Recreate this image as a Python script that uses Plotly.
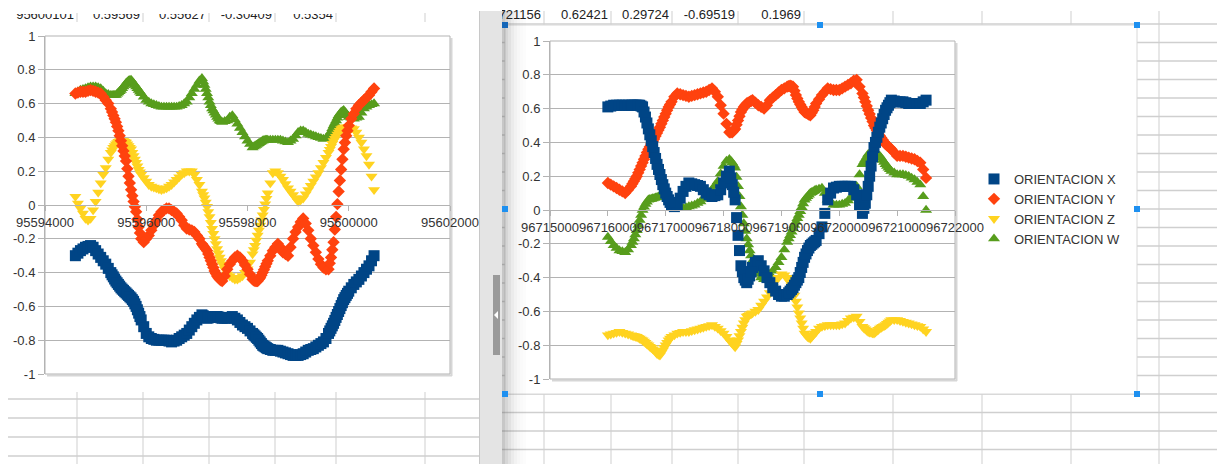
import plotly.graph_objects as go

W, H = 1217, 464

# ---------------------------------------------------------------- data
SERIES = ["ORIENTACION X", "ORIENTACION Y", "ORIENTACION Z", "ORIENTACION W"]
COLORS = ["#004586", "#ff420e", "#ffd320", "#579d1c"]
SYMBOLS = ["square", "diamond", "triangle-down", "triangle-up"]
SIZES = [11, 9.5, 10.5, 10.5]

# first recording (left chart)
time_a = [
    95594600, 95594650, 95594700, 95594750, 95594800, 95594850, 95594900, 95594950, 95595000, 95595050,
    95595100, 95595150, 95595200, 95595250, 95595300, 95595350, 95595400, 95595450, 95595500, 95595550,
    95595600, 95595650, 95595700, 95595750, 95595800, 95595850, 95595900, 95595950, 95596000, 95596050,
    95596100, 95596150, 95596200, 95596250, 95596300, 95596350, 95596400, 95596450, 95596500, 95596550,
    95596600, 95596650, 95596700, 95596750, 95596800, 95596850, 95596900, 95596950, 95597000, 95597050,
    95597100, 95597150, 95597200, 95597250, 95597300, 95597350, 95597400, 95597450, 95597500, 95597550,
    95597600, 95597650, 95597700, 95597750, 95597800, 95597850, 95597900, 95597950, 95598000, 95598050,
    95598100, 95598150, 95598200, 95598250, 95598300, 95598350, 95598400, 95598450, 95598500, 95598550,
    95598600, 95598650, 95598700, 95598750, 95598800, 95598850, 95598900, 95598950, 95599000, 95599050,
    95599100, 95599150, 95599200, 95599250, 95599300, 95599350, 95599400, 95599450, 95599500, 95599550,
    95599600, 95599650, 95599700, 95599750, 95599800, 95599850, 95599900, 95599950, 95600000, 95600050,
    95600100, 95600150, 95600200, 95600250, 95600300, 95600350, 95600400, 95600450, 95600500,
]
orient_x_a = [
    -0.30, -0.285, -0.27, -0.26, -0.25, -0.245, -0.24, -0.25, -0.27, -0.29,
    -0.31, -0.33, -0.35, -0.375, -0.40, -0.425, -0.45, -0.47, -0.49, -0.505,
    -0.52, -0.535, -0.55, -0.57, -0.60, -0.64, -0.68, -0.72, -0.76, -0.78,
    -0.79, -0.795, -0.80, -0.80, -0.80, -0.80, -0.80, -0.805, -0.81, -0.805,
    -0.80, -0.79, -0.78, -0.77, -0.76, -0.74, -0.72, -0.70, -0.68, -0.665,
    -0.65, -0.66, -0.67, -0.665, -0.66, -0.66, -0.66, -0.665, -0.67, -0.67,
    -0.67, -0.665, -0.66, -0.67, -0.68, -0.695, -0.71, -0.72, -0.73, -0.745,
    -0.76, -0.775, -0.79, -0.81, -0.83, -0.84, -0.85, -0.855, -0.86, -0.86,
    -0.86, -0.865, -0.87, -0.875, -0.88, -0.885, -0.89, -0.89, -0.89, -0.885,
    -0.88, -0.87, -0.86, -0.855, -0.85, -0.84, -0.83, -0.82, -0.81, -0.79,
    -0.76, -0.73, -0.70, -0.665, -0.63, -0.595, -0.56, -0.535, -0.51, -0.49,
    -0.47, -0.455, -0.44, -0.42, -0.40, -0.38, -0.36, -0.33, -0.30,
]
orient_y_a = [
    0.66, 0.665, 0.67, 0.67, 0.67, 0.675, 0.68, 0.675, 0.67, 0.665,
    0.66, 0.64, 0.62, 0.60, 0.57, 0.53, 0.49, 0.44, 0.38, 0.32,
    0.26, 0.17, 0.09, 0.02, -0.04, -0.13, -0.20, -0.22, -0.20, -0.18,
    -0.15, -0.12, -0.09, -0.06, -0.04, -0.03, -0.02, -0.02, -0.03, -0.04,
    -0.05, -0.07, -0.09, -0.12, -0.14, -0.145, -0.15, -0.16, -0.18, -0.20,
    -0.23, -0.25, -0.27, -0.31, -0.35, -0.39, -0.42, -0.44, -0.45, -0.42,
    -0.38, -0.35, -0.33, -0.31, -0.30, -0.31, -0.33, -0.355, -0.38, -0.41,
    -0.44, -0.45, -0.45, -0.43, -0.40, -0.365, -0.33, -0.30, -0.27, -0.25,
    -0.23, -0.25, -0.28, -0.29, -0.30, -0.25, -0.20, -0.16, -0.13, -0.10,
    -0.08, -0.11, -0.15, -0.20, -0.24, -0.28, -0.32, -0.35, -0.37, -0.38,
    -0.38, -0.31, -0.22, -0.07, 0.08, 0.21, 0.33, 0.41, 0.47, 0.51,
    0.54, 0.57, 0.59, 0.605, 0.62, 0.635, 0.65, 0.67, 0.69,
]
orient_z_a = [
    0.05, 0.01, -0.02, -0.05, -0.08, -0.09, -0.08, -0.03, 0.02, 0.075,
    0.13, 0.18, 0.22, 0.27, 0.31, 0.34, 0.36, 0.375, 0.38, 0.38,
    0.37, 0.35, 0.33, 0.29, 0.25, 0.21, 0.18, 0.16, 0.14, 0.12,
    0.11, 0.105, 0.10, 0.095, 0.09, 0.095, 0.10, 0.11, 0.12, 0.135,
    0.15, 0.165, 0.18, 0.19, 0.20, 0.20, 0.20, 0.18, 0.15, 0.12,
    0.08, 0.04, -0.01, -0.07, -0.14, -0.20, -0.26, -0.31, -0.35, -0.38,
    -0.41, -0.42, -0.43, -0.44, -0.44, -0.43, -0.42, -0.40, -0.38, -0.34,
    -0.29, -0.24, -0.18, -0.12, -0.06, 0.005, 0.07, 0.13, 0.19, 0.20,
    0.19, 0.17, 0.15, 0.125, 0.10, 0.08, 0.06, 0.04, 0.02, 0.03,
    0.04, 0.065, 0.09, 0.115, 0.14, 0.165, 0.19, 0.22, 0.25, 0.28,
    0.31, 0.345, 0.38, 0.405, 0.43, 0.45, 0.46, 0.46, 0.46, 0.455,
    0.45, 0.43, 0.40, 0.37, 0.33, 0.29, 0.24, 0.17, 0.09,
]
orient_w_a = [
    0.66, 0.67, 0.68, 0.685, 0.69, 0.695, 0.70, 0.70, 0.70, 0.695,
    0.69, 0.675, 0.66, 0.655, 0.65, 0.65, 0.65, 0.665, 0.68, 0.70,
    0.72, 0.735, 0.74, 0.72, 0.70, 0.68, 0.66, 0.64, 0.62, 0.61,
    0.60, 0.595, 0.59, 0.585, 0.58, 0.58, 0.58, 0.58, 0.58, 0.58,
    0.58, 0.585, 0.59, 0.60, 0.61, 0.635, 0.66, 0.685, 0.71, 0.735,
    0.75, 0.71, 0.66, 0.61, 0.57, 0.545, 0.52, 0.50, 0.49, 0.495,
    0.50, 0.52, 0.53, 0.505, 0.48, 0.455, 0.43, 0.405, 0.38, 0.36,
    0.34, 0.35, 0.36, 0.37, 0.38, 0.385, 0.385, 0.385, 0.385, 0.385,
    0.385, 0.385, 0.38, 0.375, 0.37, 0.38, 0.39, 0.41, 0.43, 0.44,
    0.44, 0.43, 0.42, 0.415, 0.41, 0.405, 0.40, 0.395, 0.39, 0.395,
    0.40, 0.435, 0.47, 0.50, 0.53, 0.55, 0.56, 0.54, 0.52, 0.515,
    0.51, 0.515, 0.52, 0.545, 0.57, 0.58, 0.59, 0.595, 0.60,
]

# faster logging during the quick turns of the first recording
time_a_fast = [
    95595325, 95595375, 95595425, 95595475, 95595525, 95595575, 95595625, 95595675, 95595725, 95595775,
    95595825, 95595875,
    95597125, 95597175, 95597225, 95597275, 95597325, 95597375, 95597425, 95597475,
    95598125, 95598175, 95598225, 95598275, 95598325, 95598375,
    95599625, 95599675, 95599725, 95599775, 95599825, 95599875, 95599925, 95599975,
]
orient_x_a_fast = [
    -0.413, -0.438, -0.46, -0.48, -0.498, -0.513, -0.528, -0.543, -0.56, -0.585, -0.62, -0.66,
    -0.655, -0.665, -0.668, -0.663, -0.66, -0.66, -0.663, -0.668,
    -0.768, -0.783, -0.80, -0.82, -0.835, -0.845,
    -0.745, -0.715, -0.683, -0.648, -0.613, -0.578, -0.548, -0.523,
]
orient_y_a_fast = [
    0.55, 0.51, 0.465, 0.41, 0.35, 0.29, 0.215, 0.13, 0.055, -0.01, -0.085, -0.165,
    -0.24, -0.26, -0.29, -0.33, -0.37, -0.405, -0.43, -0.445,
    -0.445, -0.45, -0.44, -0.415, -0.383, -0.348,
    -0.345, -0.265, -0.145, 0.005, 0.145, 0.27, 0.37, 0.44,
]
orient_z_a_fast = [
    0.325, 0.35, 0.368, 0.378, 0.38, 0.375, 0.36, 0.34, 0.31, 0.27, 0.23, 0.195,
    0.06, 0.015, -0.04, -0.105, -0.17, -0.23, -0.285, -0.33,
    -0.265, -0.21, -0.15, -0.09, -0.028, 0.038,
    0.328, 0.363, 0.393, 0.418, 0.44, 0.455, 0.46, 0.46,
]
orient_w_a_fast = [
    0.65, 0.65, 0.658, 0.673, 0.69, 0.71, 0.728, 0.738, 0.73, 0.71, 0.69, 0.67,
    0.73, 0.685, 0.635, 0.59, 0.558, 0.533, 0.51, 0.495,
    0.345, 0.355, 0.365, 0.375, 0.383, 0.385,
    0.418, 0.453, 0.485, 0.515, 0.54, 0.555, 0.55, 0.53,
]

# second recording (right chart)
time_b = [
    96716000, 96716050, 96716100, 96716150, 96716200, 96716250, 96716300, 96716350, 96716400, 96716450,
    96716500, 96716550, 96716600, 96716650, 96716700, 96716750, 96716800, 96716850, 96716900, 96716950,
    96717000, 96717050, 96717100, 96717150, 96717200, 96717250, 96717300, 96717350, 96717400, 96717450,
    96717500, 96717550, 96717600, 96717650, 96717700, 96717750, 96717800, 96717850, 96717900, 96717950,
    96718000, 96718050, 96718100, 96718150, 96718200, 96718250, 96718300, 96718350, 96718400, 96718450,
    96718500, 96718550, 96718600, 96718650, 96718700, 96718750, 96718800, 96718850, 96718900, 96718950,
    96719000, 96719050, 96719100, 96719150, 96719200, 96719250, 96719300, 96719350, 96719400, 96719450,
    96719500, 96719550, 96719600, 96719650, 96719700, 96719750, 96719800, 96719850, 96719900, 96719950,
    96720000, 96720050, 96720100, 96720150, 96720200, 96720250, 96720300, 96720350, 96720400, 96720450,
    96720500, 96720550, 96720600, 96720650, 96720700, 96720750, 96720800, 96720850, 96720900, 96720950,
    96721000, 96721050, 96721100, 96721150, 96721200, 96721250, 96721300, 96721350, 96721400, 96721450,
    96721500,
]
orient_x_b = [
    0.61, 0.615, 0.62, 0.62, 0.62, 0.62, 0.62, 0.62, 0.62, 0.62,
    0.62, 0.62, 0.61, 0.55, 0.48, 0.41, 0.34, 0.27, 0.21, 0.15,
    0.10, 0.06, 0.03, 0.02, 0.03, 0.07, 0.11, 0.14, 0.16, 0.155,
    0.15, 0.145, 0.14, 0.12, 0.10, 0.09, 0.08, 0.085, 0.09, 0.12,
    0.16, 0.20, 0.23, 0.15, 0.06, -0.15, -0.33, -0.40, -0.43, -0.39,
    -0.34, -0.31, -0.30, -0.33, -0.36, -0.40, -0.43, -0.46, -0.48, -0.50,
    -0.51, -0.51, -0.50, -0.48, -0.46, -0.43, -0.40, -0.34, -0.28, -0.24,
    -0.21, -0.195, -0.18, -0.14, -0.10, -0.02, 0.06, 0.10, 0.13, 0.135,
    0.14, 0.14, 0.14, 0.14, 0.14, 0.12, 0.09, 0.03, -0.02, 0.04,
    0.14, 0.26, 0.37, 0.43, 0.49, 0.54, 0.59, 0.62, 0.65, 0.645,
    0.64, 0.64, 0.64, 0.635, 0.63, 0.63, 0.63, 0.63, 0.63, 0.64,
    0.65,
]
orient_y_b = [
    0.16, 0.15, 0.14, 0.13, 0.12, 0.11, 0.10, 0.12, 0.14, 0.17,
    0.20, 0.24, 0.28, 0.32, 0.36, 0.39, 0.42, 0.455, 0.49, 0.53,
    0.57, 0.61, 0.64, 0.67, 0.69, 0.685, 0.68, 0.675, 0.67, 0.675,
    0.68, 0.685, 0.69, 0.695, 0.70, 0.71, 0.72, 0.70, 0.67, 0.62,
    0.57, 0.51, 0.46, 0.46, 0.48, 0.53, 0.58, 0.61, 0.63, 0.64,
    0.65, 0.635, 0.62, 0.61, 0.60, 0.62, 0.65, 0.665, 0.68, 0.695,
    0.71, 0.72, 0.73, 0.735, 0.73, 0.68, 0.64, 0.61, 0.58, 0.57,
    0.56, 0.59, 0.63, 0.655, 0.68, 0.70, 0.72, 0.715, 0.71, 0.71,
    0.71, 0.72, 0.73, 0.74, 0.75, 0.765, 0.77, 0.73, 0.69, 0.64,
    0.59, 0.545, 0.50, 0.47, 0.44, 0.415, 0.39, 0.375, 0.36, 0.34,
    0.32, 0.32, 0.32, 0.315, 0.31, 0.305, 0.30, 0.29, 0.28, 0.24,
    0.19,
]
orient_z_b = [
    -0.74, -0.735, -0.73, -0.725, -0.72, -0.725, -0.73, -0.735, -0.74, -0.745,
    -0.75, -0.76, -0.77, -0.785, -0.80, -0.815, -0.83, -0.85, -0.86, -0.83,
    -0.80, -0.77, -0.75, -0.74, -0.73, -0.725, -0.72, -0.72, -0.72, -0.715,
    -0.71, -0.705, -0.70, -0.695, -0.69, -0.685, -0.68, -0.69, -0.70, -0.715,
    -0.73, -0.75, -0.77, -0.79, -0.81, -0.77, -0.72, -0.67, -0.63, -0.62,
    -0.61, -0.60, -0.59, -0.565, -0.54, -0.515, -0.49, -0.455, -0.42, -0.40,
    -0.38, -0.385, -0.40, -0.43, -0.47, -0.54, -0.61, -0.67, -0.73, -0.75,
    -0.76, -0.74, -0.72, -0.70, -0.69, -0.685, -0.68, -0.68, -0.68, -0.68,
    -0.68, -0.675, -0.67, -0.655, -0.64, -0.635, -0.63, -0.66, -0.69, -0.705,
    -0.72, -0.725, -0.73, -0.715, -0.70, -0.69, -0.68, -0.665, -0.65, -0.65,
    -0.65, -0.655, -0.66, -0.665, -0.67, -0.675, -0.68, -0.685, -0.69, -0.705,
    -0.72,
]
orient_w_b = [
    -0.16, -0.185, -0.21, -0.225, -0.24, -0.245, -0.25, -0.235, -0.21, -0.17,
    -0.12, -0.06, 0.00, 0.035, 0.06, 0.065, 0.07, 0.075, 0.08, 0.09,
    0.10, 0.08, 0.06, 0.04, 0.02, 0.015, 0.01, 0.015, 0.02, 0.025,
    0.03, 0.04, 0.05, 0.065, 0.08, 0.10, 0.12, 0.145, 0.17, 0.215,
    0.26, 0.29, 0.30, 0.28, 0.25, 0.14, 0.02, -0.08, -0.17, -0.24,
    -0.30, -0.35, -0.38, -0.40, -0.41, -0.40, -0.38, -0.36, -0.34, -0.31,
    -0.28, -0.235, -0.19, -0.15, -0.11, -0.07, -0.03, 0.015, 0.06, 0.08,
    0.10, 0.11, 0.12, 0.125, 0.13, 0.10, 0.06, 0.045, 0.03, 0.03,
    0.03, 0.035, 0.04, 0.055, 0.07, 0.10, 0.14, 0.21, 0.27, 0.30,
    0.33, 0.34, 0.34, 0.33, 0.32, 0.295, 0.27, 0.25, 0.23, 0.22,
    0.21, 0.21, 0.21, 0.205, 0.20, 0.19, 0.18, 0.165, 0.15, 0.08,
    0.00,
]

# faster logging during the quick turns of the second recording
time_b_fast = [
    96716425, 96716475, 96716525, 96716575, 96716625, 96716675, 96716725, 96716775, 96716825, 96716875,
    96716925, 96716975, 96717025, 96717075,
    96718125, 96718175, 96718225, 96718275, 96718325, 96718375, 96718425, 96718475,
    96719125, 96719175, 96719225, 96719275, 96719325, 96719375, 96719425, 96719475, 96719525, 96719575,
    96720425, 96720475, 96720525, 96720575, 96720625, 96720675, 96720725, 96720775, 96720825, 96720875,
]
orient_x_b_fast = [
    0.62, 0.62, 0.62, 0.615, 0.58, 0.515, 0.445, 0.375, 0.305, 0.24, 0.18, 0.125, 0.08, 0.045,
    0.19, 0.105, -0.045, -0.24, -0.365, -0.415, -0.41, -0.365,
    -0.49, -0.47, -0.445, -0.415, -0.37, -0.31, -0.26, -0.225, -0.203, -0.188,
    0.01, 0.09, 0.20, 0.315, 0.40, 0.46, 0.515, 0.565, 0.605, 0.635,
]
orient_y_b_fast = [
    0.155, 0.185, 0.22, 0.26, 0.30, 0.34, 0.375, 0.405, 0.438, 0.473, 0.51, 0.55, 0.59, 0.625,
    0.46, 0.47, 0.505, 0.555, 0.595, 0.62, 0.635, 0.645,
    0.733, 0.733, 0.705, 0.66, 0.625, 0.595, 0.575, 0.565, 0.575, 0.61,
    0.665, 0.615, 0.568, 0.523, 0.485, 0.455, 0.428, 0.403, 0.383, 0.368,
]
orient_z_b_fast = [
    -0.743, -0.748, -0.755, -0.765, -0.778, -0.793, -0.808, -0.823, -0.84, -0.855, -0.845, -0.815,
    -0.785, -0.76,
    -0.78, -0.80, -0.79, -0.745, -0.695, -0.65, -0.625, -0.615,
    -0.415, -0.45, -0.505, -0.575, -0.64, -0.70, -0.74, -0.755, -0.75, -0.73,
    -0.698, -0.713, -0.723, -0.728, -0.723, -0.708, -0.695, -0.685, -0.673, -0.658,
]
orient_w_b_fast = [
    -0.19, -0.145, -0.09, -0.03, 0.018, 0.048, 0.063, 0.068, 0.073, 0.078, 0.085, 0.095, 0.09, 0.07,
    0.29, 0.265, 0.195, 0.08, -0.03, -0.125, -0.205, -0.27,
    -0.17, -0.13, -0.09, -0.05, -0.008, 0.038, 0.07, 0.09, 0.105, 0.115,
    0.285, 0.315, 0.335, 0.34, 0.335, 0.325, 0.308, 0.283, 0.26, 0.24,
]

Y_TICKS = [-1, -0.8, -0.6, -0.4, -0.2, 0, 0.2, 0.4, 0.6, 0.8, 1]
Y_TICK_TEXT = ["-1", "-0.8", "-0.6", "-0.4", "-0.2", "0", "0.2", "0.4", "0.6", "0.8", "1"]

# spreadsheet cells showing around the charts
cells_left = ["95600101", "0.59569", "0.55627", "-0.30409", "0.5354"]
cells_right = ["96721156", "0.62421", "0.29724", "-0.69519", "0.1969"]

# merge regular and fast samples of each recording
rec_a = (time_a + time_a_fast,
         [orient_x_a + orient_x_a_fast, orient_y_a + orient_y_a_fast,
          orient_z_a + orient_z_a_fast, orient_w_a + orient_w_a_fast])
rec_b = (time_b + time_b_fast,
         [orient_x_b + orient_x_b_fast, orient_y_b + orient_y_b_fast,
          orient_z_b + orient_z_b_fast, orient_w_b + orient_w_b_fast])
for t, cols in (rec_a, rec_b):
    assert all(len(c) == len(t) for c in cols), [len(t)] + [len(c) for c in cols]

# ---------------------------------------------------------------- layout helpers
FONT = "Liberation Sans, Arial, sans-serif"
GRID = "#b3b3b3"
CELL_LINE = "#cfcfcf"


def fx(p):
    return p / W


def fy(p):
    return 1 - p / H


shapes = []


def rect(x0, y0, x1, y1, fill=None, line=None, lw=1, layer="below"):
    shapes.append(dict(
        type="rect", xref="paper", yref="paper",
        x0=fx(x0), x1=fx(x1), y0=fy(y1), y1=fy(y0),
        fillcolor=fill if fill else "rgba(0,0,0,0)",
        line=dict(color=line if line else "rgba(0,0,0,0)", width=lw if line else 0),
        layer=layer,
    ))


def hline(y, x0, x1, color=CELL_LINE, lw=1):
    shapes.append(dict(type="line", xref="paper", yref="paper", x0=fx(x0), x1=fx(x1),
                       y0=fy(y), y1=fy(y), line=dict(color=color, width=lw), layer="below"))


def vline(x, y0, y1, color=CELL_LINE, lw=1):
    shapes.append(dict(type="line", xref="paper", yref="paper", x0=fx(x), x1=fx(x),
                       y0=fy(y0), y1=fy(y1), line=dict(color=color, width=lw), layer="below"))


# sheet grid, left pane
left_cols = [77, 143, 209, 275, 336, 425]
for c in left_cols:
    vline(c, 13, H)
for r in [399, 418, 437, 456]:
    hline(r, 8, 479, lw=1.5)

# sheet grid, right pane
right_cols = [544, 611, 672, 738, 804, 893, 982, 1071, 1159]
for c in right_cols:
    vline(c, 11, H)
r = 24.0
while r < H:
    hline(r, 502, W, lw=1.5)
    r += 18.5

# chart objects (white canvases on top of the sheet)
rect(0, 22, 479, 392, fill="#ffffff")
rect(505, 25, 1137, 394, fill="#ffffff", line="#d8d8d8")

# pane splitter and scroll thumb
rect(479, 11, 502, H, fill="#e4e4e4")
vline(479.5, 11, H, color="#c8c8c8")
rect(493, 275, 500, 355, fill="#9a9a9a")
shapes.append(dict(type="path", xref="paper", yref="paper", layer="below",
                   path="M %f %f L %f %f L %f %f Z" % (fx(494), fy(315), fx(498), fy(311), fx(498), fy(319)),
                   fillcolor="#ffffff", line=dict(width=0)))
# shadow along the right pane edge
for i, a in enumerate([0.34, 0.25, 0.18, 0.12, 0.08, 0.05, 0.03, 0.015]):
    rect(502 + i * 3, 11, 505 + i * 3, H, fill="rgba(90,90,90,%.3f)" % a)

# chart walls with their soft shadow
plot_a = dict(x0=45, x1=450, y0=36, y1=374)
plot_b = dict(x0=550, x1=955, y0=41, y1=379)
for p in (plot_a, plot_b):
    hline(p["y1"] + 1.5, p["x0"] + 2, p["x1"] + 2, color="#d6d6d6", lw=2)
    vline(p["x1"] + 1.5, p["y0"] + 2, p["y1"] + 2, color="#d6d6d6", lw=2)
    rect(p["x0"], p["y0"], p["x1"], p["y1"], line=GRID)

# selection handles of the active chart
for hx, hy in [(505, 25), (820, 25), (1137, 25), (505, 209), (1137, 209),
               (505, 394), (820, 394), (1137, 394)]:
    rect(hx - 3, hy - 3, hx + 3, hy + 3, fill="#1e90f0" if (hx, hy) != (505, 25) else "#1566b8",
         layer="above")

# ---------------------------------------------------------------- traces
fig = go.Figure()

sets = [("x", "y", rec_a, False), ("x2", "y2", rec_b, True)]
for xa, ya, (t, values), in_legend in sets:
    series = list(zip(SERIES, values, COLORS, SYMBOLS, SIZES))
    # last series is painted first, so ORIENTACION X sits on top
    for rank in range(len(series) - 1, -1, -1):
        name, vals, col, sym, sz = series[rank]
        fig.add_trace(go.Scatter(
            x=t, y=vals, name=name, mode="markers", xaxis=xa, yaxis=ya,
            marker=dict(symbol=sym, color=col, size=sz, line=dict(width=0)),
            showlegend=in_legend, legendrank=rank + 1, hoverinfo="skip",
        ))

# cell contents (clipped by the pane edges)
cell_font = dict(family=FONT, size=13, color="#222222")
fig.add_trace(go.Scatter(
    x=[c - 3 for c in [77, 143, 209, 275, 336]], y=[16] * len(cells_left),
    text=cells_left, mode="text", textposition="middle left", textfont=cell_font,
    xaxis="x3", yaxis="y3", showlegend=False, hoverinfo="skip", cliponaxis=True,
))
fig.add_trace(go.Scatter(
    x=[c - 3 for c in right_cols[:5]], y=[16] * len(cells_right),
    text=cells_right, mode="text", textposition="middle left", textfont=cell_font,
    xaxis="x4", yaxis="y4", showlegend=False, hoverinfo="skip", cliponaxis=True,
))

tick_font = dict(family=FONT, size=13, color="#333333")


def yaxis(p, xname):
    return dict(
        domain=[fy(p["y1"]), fy(p["y0"])], range=[-1, 1], tickmode="array",
        tickvals=Y_TICKS, ticktext=Y_TICK_TEXT, showgrid=True, gridcolor=GRID, gridwidth=1,
        zeroline=False, showline=True, linecolor=GRID, ticks="outside", ticklen=6,
        tickcolor=GRID, tickfont=tick_font, fixedrange=True, anchor=xname,
        automargin=False,
    )


def xaxis(p, lo, hi, step):
    ymid = (fy(p["y1"]) + fy(p["y0"])) / 2
    return dict(
        domain=[fx(p["x0"]), fx(p["x1"])], range=[lo, hi], tick0=lo, dtick=step,
        tickformat="d", tickangle=0, showgrid=False, zeroline=False, showline=True,
        linecolor=GRID, ticks="outside", ticklen=5, tickcolor=GRID, tickfont=tick_font,
        anchor="free", position=ymid, fixedrange=True, automargin=False,
    )


hidden = dict(visible=False, fixedrange=True, showgrid=False, zeroline=False, automargin=False)

fig.update_layout(
    width=W, height=H, autosize=False,
    margin=dict(l=0, r=0, t=0, b=0, pad=0, autoexpand=False),
    paper_bgcolor="#ffffff", plot_bgcolor="rgba(0,0,0,0)",
    font=dict(family=FONT, size=13, color="#333333"),
    shapes=shapes,
    xaxis=xaxis(plot_a, 95594000, 95602000, 2000),
    yaxis=yaxis(plot_a, "x"),
    xaxis2=xaxis(plot_b, 96715000, 96722000, 1000),
    yaxis2=yaxis(plot_b, "x2"),
    xaxis3=dict(hidden, domain=[0, fx(479)], range=[0, 479], anchor="y3"),
    yaxis3=dict(hidden, domain=[0, fy(14)], range=[H, 14], anchor="x3"),
    xaxis4=dict(hidden, domain=[fx(502), 1], range=[502, W], anchor="y4"),
    yaxis4=dict(hidden, domain=[0, fy(8)], range=[H, 8], anchor="x4"),
    legend=dict(
        x=fx(974), y=fy(164), xanchor="left", yanchor="top",
        font=dict(family=FONT, size=13, color="#333333"),
        bgcolor="rgba(0,0,0,0)", borderwidth=0, tracegroupgap=0, itemwidth=30,
        traceorder="normal",
    ),
    showlegend=True,
)

fig.write_html("out.html")
